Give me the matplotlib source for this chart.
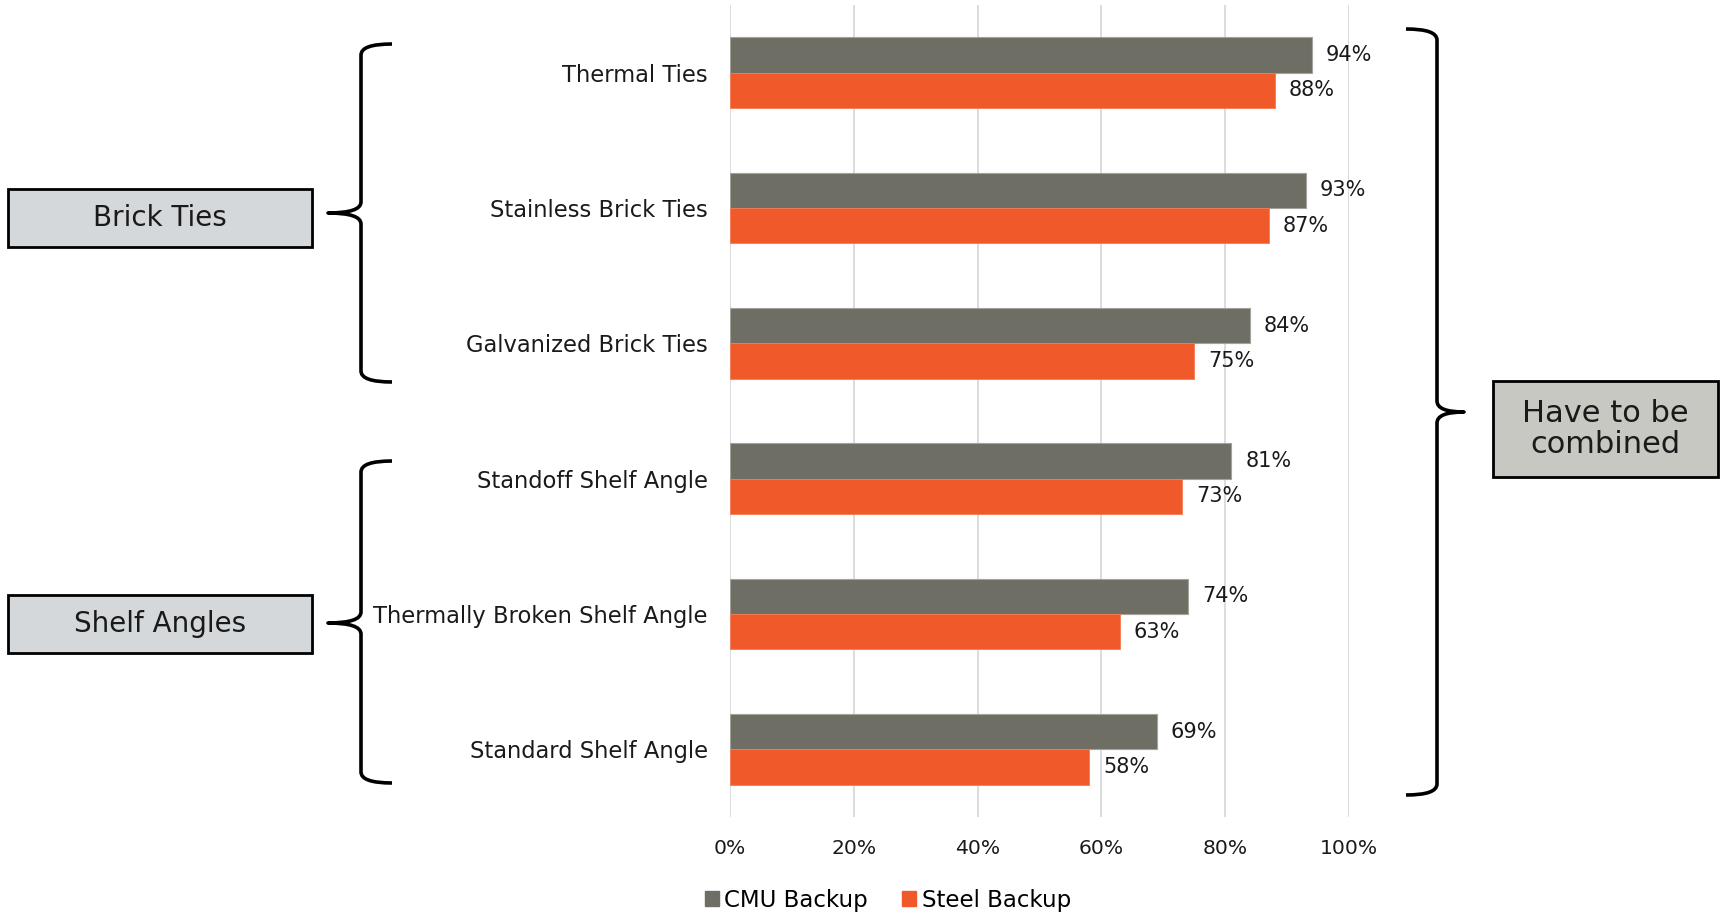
import numpy as np
import matplotlib
matplotlib.use("Agg")
import matplotlib.pyplot as plt
from matplotlib.patches import Rectangle, PathPatch, Patch
from matplotlib.path import Path

plt.rcParams['font.family'] = ['DejaVu Sans']

categories = ["Thermal Ties", "Stainless Brick Ties", "Galvanized Brick Ties",
              "Standoff Shelf Angle", "Thermally Broken Shelf Angle", "Standard Shelf Angle"]
cmu = [0.94, 0.93, 0.84, 0.81, 0.74, 0.69]
steel = [0.88, 0.87, 0.75, 0.73, 0.63, 0.58]
xticks = [0, 0.2, 0.4, 0.6, 0.8, 1.0]
series_names = ["CMU Backup", "Steel Backup"]

GRAY = "#6F6E64"
ORANGE = "#F05A2A"

W, H = 1720, 923
fig = plt.figure(figsize=(W / 100, H / 100), dpi=100)
ax = fig.add_axes([730 / W, 1 - 817 / H, (1349 - 730) / W, (817 - 5) / H])

y = np.arange(len(categories))
bh = 0.26
b1 = ax.barh(y - bh / 2, cmu, height=bh, color=GRAY, edgecolor="#A4A29A", linewidth=0.8, zorder=3)
b2 = ax.barh(y + bh / 2, steel, height=bh, color=ORANGE, edgecolor="#F47A52", linewidth=0.6, zorder=3)

for bars, vals in ((b1, cmu), (b2, steel)):
    for rect, v in zip(bars, vals):
        ax.annotate(f"{v:.0%}", (rect.get_width(), rect.get_y() + rect.get_height() / 2),
                    xytext=(10, 0), textcoords="offset points", ha="left", va="center",
                    fontsize=15, color="#1a1a1a")

ax.set_xlim(0, 1.0)
ax.set_ylim(len(categories) - 0.5, -0.5)
ax.set_xticks(xticks)
ax.set_xticklabels([f"{t:.0%}" for t in xticks])
ax.set_yticks(y)
ax.set_yticklabels(categories)
ax.tick_params(axis="y", length=0, pad=16, labelsize=16.3, labelcolor="#1a1a1a")
ax.tick_params(axis="x", length=0, pad=16, labelsize=14.6, labelcolor="#1a1a1a")
ax.grid(axis="x", color="#D9D9D9", linewidth=1.3, zorder=0)
for s in ax.spines.values():
    s.set_visible(False)

fig.legend([Patch(color=GRAY), Patch(color=ORANGE)], series_names, loc="center",
           bbox_to_anchor=(888 / W, 1 - 900 / H), ncol=2, frameon=False, fontsize=16.5,
           handlelength=0.6, handleheight=0.6, handletextpad=0.25, columnspacing=1.5)

# overlay in pixel coordinates for braces and boxes
ov = fig.add_axes([0, 0, 1, 1], facecolor="none")
ov.set_xlim(0, W)
ov.set_ylim(H, 0)
ov.axis("off")


def brace(x_tip, x_line, x_end, y_top, y_mid, y_bot, r=11):
    verts = [(x_end, y_top), (x_line, y_top), (x_line, y_top + r),
             (x_line, y_mid - r), (x_line, y_mid), (x_tip, y_mid),
             (x_line, y_mid), (x_line, y_mid + r),
             (x_line, y_bot - r), (x_line, y_bot), (x_end, y_bot)]
    codes = [Path.MOVETO, Path.CURVE3, Path.CURVE3,
             Path.LINETO, Path.CURVE3, Path.CURVE3,
             Path.CURVE3, Path.CURVE3,
             Path.LINETO, Path.CURVE3, Path.CURVE3]
    ov.add_patch(PathPatch(Path(verts, codes), facecolor="none", edgecolor="black",
                           linewidth=2.6, capstyle="butt", joinstyle="round"))


brace(328, 361, 392, 44, 213, 382)
brace(328, 361, 392, 461, 623, 783)
brace(1464, 1437, 1406, 29, 412, 795)


def box(x0, y0, x1, y1, fc, lines, fs):
    ov.add_patch(Rectangle((x0, y0), x1 - x0, y1 - y0, facecolor=fc,
                           edgecolor="black", linewidth=2))
    ov.text((x0 + x1) / 2, (y0 + y1) / 2, lines, ha="center", va="center",
            fontsize=fs, color="#1a1a1a", linespacing=1.05)


box(8, 189, 312, 247, "#D5D8DA", "Brick Ties", 20)
box(8, 595, 312, 653, "#D5D8DA", "Shelf Angles", 20)
box(1493, 381, 1718, 477, "#C8C8C2", "Have to be\ncombined", 22)

fig.savefig("out.png", dpi=100)
